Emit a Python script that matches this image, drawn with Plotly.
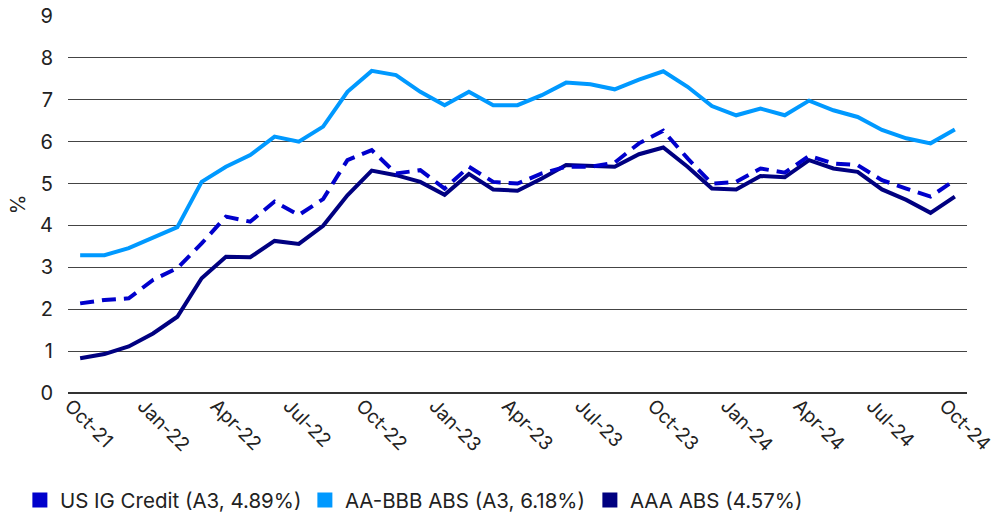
import plotly.graph_objects as go

months = ["Oct-21","Nov-21","Dec-21","Jan-22","Feb-22","Mar-22","Apr-22","May-22","Jun-22","Jul-22","Aug-22","Sep-22",
          "Oct-22","Nov-22","Dec-22","Jan-23","Feb-23","Mar-23","Apr-23","May-23","Jun-23","Jul-23","Aug-23","Sep-23",
          "Oct-23","Nov-23","Dec-23","Jan-24","Feb-24","Mar-24","Apr-24","May-24","Jun-24","Jul-24","Aug-24","Sep-24","Oct-24"]

us_ig_credit = [2.14,2.22,2.26,2.70,2.98,3.57,4.21,4.09,4.57,4.25,4.63,5.56,
                5.80,5.24,5.32,4.88,5.40,5.04,5.00,5.24,5.40,5.40,5.50,5.96,
                6.26,5.60,5.00,5.04,5.36,5.26,5.66,5.48,5.44,5.08,4.88,4.69,5.08]

aa_bbb_abs = [3.29,3.29,3.46,3.70,3.96,5.04,5.40,5.68,6.12,6.00,6.36,7.19,
              7.69,7.59,7.19,6.87,7.19,6.87,6.87,7.11,7.41,7.37,7.25,7.48,
              7.68,7.31,6.85,6.63,6.79,6.63,6.98,6.75,6.59,6.28,6.08,5.96,6.29]

aaa_abs = [0.83,0.93,1.11,1.42,1.82,2.74,3.25,3.24,3.63,3.56,3.99,4.72,
           5.31,5.20,5.04,4.73,5.23,4.86,4.83,5.12,5.44,5.42,5.40,5.70,
           5.86,5.40,4.88,4.86,5.18,5.15,5.56,5.36,5.28,4.86,4.61,4.30,4.69]

legend_names = ["US IG Credit (A3, 4.89%)", "AA-BBB ABS (A3, 6.18%)", "AAA ABS (4.57%)"]
colors = ["#0000CC", "#0099FF", "#000080"]
y_ticks = list(range(0, 10))
x_tick_labels = months[::3]

fig = go.Figure()

fig.add_trace(go.Scatter(x=months, y=aa_bbb_abs, mode="lines",
                         line=dict(color=colors[1], width=4), showlegend=False))
fig.add_trace(go.Scatter(x=months, y=aaa_abs, mode="lines",
                         line=dict(color=colors[2], width=4), showlegend=False))
fig.add_trace(go.Scatter(x=months, y=us_ig_credit, mode="lines",
                         line=dict(color=colors[0], width=4, dash="14px,8px"), showlegend=False))

for name, c in zip(legend_names, colors):
    fig.add_trace(go.Scatter(x=[None], y=[None], mode="markers", name=name,
                             marker=dict(symbol="square", size=15, color=c)))

fig.update_layout(
    width=994, height=512,
    margin=dict(l=68, r=27, t=16, b=119, autoexpand=False),
    plot_bgcolor="white", paper_bgcolor="white",
    font=dict(family="Inter, Roboto, sans-serif", size=20, color="#222222"),
    showlegend=True,
    legend=dict(orientation="h", x=0.02, xref="container", y=0.023, yref="container",
                xanchor="left", yanchor="middle", font=dict(size=20.5, color="#222222"),
                itemwidth=30, tracegroupgap=0, traceorder="normal",
                entrywidth=240, entrywidthmode="pixels"),
    xaxis=dict(type="category", categoryorder="array", categoryarray=months,
               range=[-0.5, len(months) - 0.5],
               tickmode="array", tickvals=x_tick_labels, ticktext=x_tick_labels,
               tickangle=45, showgrid=False, ticks="", showline=False, zeroline=False,
               automargin=False, ticklabelshift=-10, ticklabelstandoff=-3,
               tickfont=dict(size=19)),
    yaxis=dict(range=[0, 9], tickmode="array", tickvals=y_ticks,
               showgrid=True, gridcolor="#444444", gridwidth=1, zeroline=True,
               zerolinecolor="#333333", zerolinewidth=1.5, ticks="", showline=False,
               automargin=False, ticklabelstandoff=14, tickfont=dict(size=20),
               title=dict(text="%", standoff=9, font=dict(size=20))),
)

fig.write_html("out.html")
